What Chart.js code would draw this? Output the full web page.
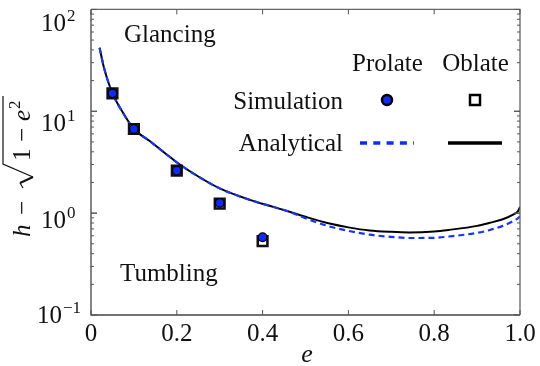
<!DOCTYPE html>
<html>
<head>
<meta charset="utf-8">
<script src="https://cdn.jsdelivr.net/npm/chart.js@4.4.1/dist/chart.umd.min.js"></script>
<style>
  html, body { margin: 0; padding: 0; background: #fff; }
  #wrap { width: 540px; height: 366px; }
</style>
</head>
<body>
<div id="wrap"><canvas id="chart" width="540" height="366"></canvas></div>
<script>
// simulation points
const simE = [0.05, 0.1, 0.2, 0.3, 0.4];
const simProlate = [15.0, 6.7, 2.61, 1.26, 0.58];
const simOblate = [15.0, 6.7, 2.61, 1.24, 0.53];

// analytical curves
const curveE = [0.02, 0.03, 0.04, 0.05, 0.075, 0.1, 0.137, 0.172, 0.207, 0.253, 0.3, 0.37, 0.416, 0.463,
  0.5, 0.556, 0.6, 0.649, 0.7, 0.742, 0.8, 0.835, 0.9, 0.928, 0.96, 0.985, 0.995, 1.0];
const curveProlate = [42, 27, 19.5, 15.0, 9.6, 6.7, 5.1, 3.9, 3.0, 2.25, 1.75, 1.35, 1.18, 1.03,
  0.89, 0.74, 0.67, 0.615, 0.585, 0.57, 0.572, 0.59, 0.64, 0.68, 0.75, 0.84, 0.89, 0.93];
const curveOblate = [42, 27, 19.5, 15.0, 9.6, 6.7, 5.1, 3.9, 3.0, 2.25, 1.75, 1.35, 1.18, 1.03,
  0.92, 0.79, 0.725, 0.676, 0.655, 0.647, 0.66, 0.685, 0.75, 0.80, 0.87, 0.97, 1.04, 1.15];

const xTicks = [0, 0.2, 0.4, 0.6, 0.8, 1.0];
const xTickLabels = ['0', '0.2', '0.4', '0.6', '0.8', '1.0'];
const yTicks = [100, 10, 1, 0.1];
const yTickExps = ['2', '1', '0', '\u22121'];

const BLUE = '#0b2bff';
const serif = '"Liberation Serif", "DejaVu Serif", serif';

const pts = (xs, ys) => xs.map((x, i) => ({ x, y: ys[i] }));

const decor = {
  id: 'decor',
  afterDraw(chart) {
    const ctx = chart.ctx;
    const a = chart.chartArea;
    const xs = chart.scales.x, ys = chart.scales.y;
    ctx.save();

    // frame
    ctx.lineWidth = 1.3;
    ctx.strokeStyle = '#444';
    ctx.beginPath();
    ctx.moveTo(a.left, a.top); ctx.lineTo(a.left, a.bottom); ctx.lineTo(a.right, a.bottom);
    ctx.stroke();
    ctx.strokeStyle = '#666';
    ctx.beginPath();
    ctx.moveTo(a.left, a.top); ctx.lineTo(a.right, a.top); ctx.lineTo(a.right, a.bottom);
    ctx.stroke();

    // inward ticks
    ctx.lineWidth = 1;
    ctx.strokeStyle = '#555';
    ctx.beginPath();
    xTicks.forEach(v => {
      const px = xs.getPixelForValue(v);
      ctx.moveTo(px, a.bottom); ctx.lineTo(px, a.bottom - 5);
      ctx.moveTo(px, a.top); ctx.lineTo(px, a.top + 5);
    });
    for (let k = -1; k <= 1; k++) {
      for (let m = 1; m <= 10; m++) {
        const v = m * Math.pow(10, k);
        const py = ys.getPixelForValue(v);
        const len = (m === 1 || m === 10) ? 6 : 3;
        ctx.moveTo(a.left, py); ctx.lineTo(a.left + len, py);
        ctx.moveTo(a.right, py); ctx.lineTo(a.right - len, py);
      }
    }
    ctx.stroke();

    ctx.fillStyle = '#111';
    ctx.textBaseline = 'alphabetic';

    // x tick labels
    ctx.font = '25px ' + serif;
    ctx.textAlign = 'center';
    xTicks.forEach((v, i) => ctx.fillText(xTickLabels[i], xs.getPixelForValue(v), 341));

    // y tick labels 10^n
    const yShift = [22, 20, 15, 8];
    yTicks.forEach((v, i) => {
      const py = ys.getPixelForValue(v) + yShift[i];
      const x0 = i === 3 ? 37 : 41;
      ctx.textAlign = 'left';
      ctx.font = '25px ' + serif;
      ctx.fillText('10', x0, py);
      const w = ctx.measureText('10').width;
      ctx.font = '17px ' + serif;
      ctx.fillText(yTickExps[i], x0 + w + 1, py - 10);
    });

    // x title
    ctx.textAlign = 'center';
    ctx.font = 'italic 26px ' + serif;
    ctx.fillText('e', 307, 362);

    // y title: h − √(1 − e²)
    ctx.save();
    ctx.translate(30, 237);
    ctx.rotate(-Math.PI / 2);
    ctx.textAlign = 'left';
    ctx.font = 'italic 25px ' + serif;
    ctx.fillText('h', 0, 0);
    ctx.font = '25px ' + serif;
    ctx.fillText('\u2212', 22, 0);
    ctx.lineJoin = 'miter';
    ctx.strokeStyle = '#111';
    ctx.lineWidth = 1.2;
    ctx.beginPath();
    ctx.moveTo(49, -7); ctx.lineTo(54, -10);
    ctx.stroke();
    ctx.lineWidth = 2;
    ctx.beginPath();
    ctx.moveTo(54, -10); ctx.lineTo(60, 3);
    ctx.stroke();
    ctx.lineWidth = 1.2;
    ctx.beginPath();
    ctx.moveTo(60, 3); ctx.lineTo(73, -27); ctx.lineTo(141, -27);
    ctx.stroke();
    ctx.fillText('1', 76, 0);
    ctx.fillText('\u2212', 95, 0);
    ctx.font = 'italic 25px ' + serif;
    ctx.fillText('e', 116, 0);
    ctx.font = '17px ' + serif;
    ctx.fillText('2', 128, -10);
    ctx.restore();

    // region labels
    ctx.textAlign = 'left';
    ctx.font = '25px ' + serif;
    ctx.fillText('Glancing', 124, 42);
    ctx.fillText('Tumbling', 120, 281);

    // legend table
    ctx.textAlign = 'center';
    ctx.fillText('Prolate', 387.5, 71);
    ctx.fillText('Oblate', 475.5, 71);
    ctx.textAlign = 'right';
    ctx.fillText('Simulation', 343, 109);
    ctx.fillText('Analytical', 343, 151);

    ctx.beginPath();
    ctx.arc(387, 100, 5, 0, Math.PI * 2);
    ctx.fillStyle = BLUE;
    ctx.fill();
    ctx.lineWidth = 2.5;
    ctx.strokeStyle = '#000';
    ctx.stroke();
    ctx.fillStyle = '#fff';
    ctx.fillRect(470, 95, 10, 10);
    ctx.strokeRect(470, 95, 10, 10);

    ctx.lineWidth = 3.5;
    ctx.strokeStyle = BLUE;
    ctx.setLineDash([7, 6.3]);
    ctx.beginPath(); ctx.moveTo(360, 143); ctx.lineTo(414, 143); ctx.stroke();
    ctx.setLineDash([]);
    ctx.strokeStyle = '#000';
    ctx.beginPath(); ctx.moveTo(448, 143); ctx.lineTo(502, 143); ctx.stroke();

    ctx.restore();
  }
};

new Chart(document.getElementById('chart'), {
  type: 'line',
  data: {
    datasets: [
      {
        label: 'Simulation prolate',
        data: pts(simE, simProlate),
        showLine: false,
        pointStyle: 'circle',
        pointRadius: 4.3,
        pointBackgroundColor: BLUE,
        pointBorderColor: '#000',
        pointBorderWidth: 1.3,
        order: 0
      },
      {
        label: 'Simulation oblate',
        data: pts(simE, simOblate),
        showLine: false,
        pointStyle: 'rect',
        pointRadius: 6.8,
        pointBackgroundColor: '#fff',
        pointBorderColor: '#111',
        pointBorderWidth: 2.6,
        order: 1
      },
      {
        label: 'Analytical prolate',
        data: pts(curveE, curveProlate),
        borderColor: '#1535ff',
        borderWidth: 2.2,
        borderDash: [6, 4],
        pointRadius: 0,
        cubicInterpolationMode: 'monotone',
        fill: false,
        order: 2
      },
      {
        label: 'Analytical oblate',
        data: pts(curveE, curveOblate),
        borderColor: '#000',
        borderWidth: 2,
        pointRadius: 0,
        cubicInterpolationMode: 'monotone',
        fill: false,
        order: 3
      }
    ]
  },
  options: {
    responsive: false,
    animation: false,
    layout: { padding: { left: 91, right: 20, top: 4, bottom: 51 } },
    plugins: { legend: { display: false }, tooltip: { enabled: false } },
    scales: {
      x: { type: 'linear', min: 0, max: 1, display: false },
      y: { type: 'logarithmic', min: 0.1, max: 100, display: false }
    }
  },
  plugins: [decor]
});
</script>
</body>
</html>
